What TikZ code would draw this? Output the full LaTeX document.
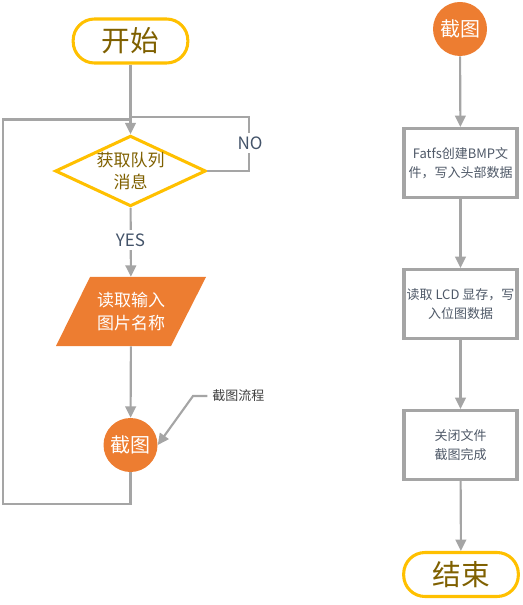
\documentclass[tikz,border=0pt]{standalone}
\usepackage{fontspec}
\setmainfont{Noto Sans CJK SC}
\usetikzlibrary{shapes.geometric,arrows.meta}

\definecolor{gold}{HTML}{FFC000}
\definecolor{goldtext}{HTML}{7F6000}
\definecolor{flamingo}{HTML}{ED7D31}
\definecolor{linegray}{HTML}{A5A5A5}
\definecolor{labeltext}{HTML}{44546A}
\definecolor{boxtext}{HTML}{4F5968}
\definecolor{notetext}{HTML}{404040}

\tikzset{
  terminal/.style={draw=gold, line width=2.3pt, rounded corners=16pt,
    minimum width=86pt, minimum height=33pt, inner sep=0pt,
    text=goldtext, font=\fontsize{21.5}{24}\selectfont},
  decision/.style={draw=gold, line width=2.3pt, shape=diamond,
    minimum width=113pt, minimum height=53pt, inner sep=0pt},
  dectext/.style={text=goldtext, align=center, inner sep=0pt,
    font=\fontsize{12.75}{16.5}\selectfont},
  iotext/.style={text=white, align=center, inner sep=0pt,
    minimum width=87pt, minimum height=51.75pt,
    font=\fontsize{12.75}{17.25}\selectfont},
  connector/.style={circle, fill=flamingo, minimum size=40.5pt, inner sep=0pt,
    text=white, font=\fontsize{15}{18}\selectfont},
  process/.style={draw=linegray, line width=2.6pt, fill=white,
    minimum width=85pt, minimum height=51.5pt, inner sep=0pt,
    text=boxtext, align=center, font=\fontsize{9.75}{14.25}\selectfont},
  branch/.style={fill=white, text=labeltext, inner xsep=1pt, inner ysep=3pt,
    font=\fontsize{12.75}{15}\selectfont},
  note/.style={text=notetext, inner sep=0pt, anchor=west,
    font=\fontsize{9.75}{12}\selectfont},
  link/.style={draw=linegray, line width=1.6pt},
  flow/.style={link, -{Triangle[length=8.5pt,width=8pt]}},
}

\begin{document}
\begin{tikzpicture}[x=0.75pt,y=-0.75pt]
  \useasboundingbox (0,0) rectangle (522,605);

  % ---- left column: screenshot task loop ----
  \node[terminal] (start) at (130.5,41) {开始};
  \node[decision] (q) at (130.5,171) {};
  \node[dectext] (qtext) at (130.5,171) {获取队列\\消息};

  % input parallelogram
  \fill[flamingo] (90,277) -- (206,277) -- (171,346) -- (56,346) -- cycle;
  \node[iotext] (input) at (131,311.5) {读取输入\\图片名称};

  \node[connector] (shot) at (130.5,445) {截图};

  \coordinate (noCorner) at (249,117);
  \coordinate (loopBottom) at (130.5,504);
  \coordinate (loopLeft) at (3,504);
  \coordinate (loopTop) at (3,119.5);

  \draw[flow] (start) -- (q);
  \draw[link] (q.east) -| (noCorner) -- (noCorner -| q.north);
  \draw[flow] (q) -- (input);
  \draw[flow] (input) -- (shot);
  \draw[link] (shot.south) -- (loopBottom) -- (loopLeft) -- (loopTop) -- (loopTop -| q.north);

  \node[branch] (no) at (250,143) {NO};
  \node[branch] (yes) at (130.5,240) {YES};

  % annotation of the subroutine
  \node[note] (noteText) at (212,396) {截图流程};
  \coordinate (noteBend) at (193,396);
  \draw[flow] ([xshift=-3.5pt]noteText.west) -- (noteBend) -- (shot.east);

  % ---- right column: screenshot subroutine ----
  \node[connector] (sub) at (460,29) {截图};
  \node[process] (create) at (460.5,163) {Fatfs创建BMP文\\件，写入头部数据};
  \node[process] (read) at (460.5,304) {读取 LCD 显存，写\\入位图数据};
  \node[process] (close) at (460.5,445) {关闭文件\\截图完成};
  \node[terminal] (finish) at (461,574.5) {结束};

  \draw[flow] (sub) -- (create);
  \draw[flow] (create) -- (read);
  \draw[flow] (read) -- (close);
  \draw[flow] (close) -- (finish);
\end{tikzpicture}
\end{document}
